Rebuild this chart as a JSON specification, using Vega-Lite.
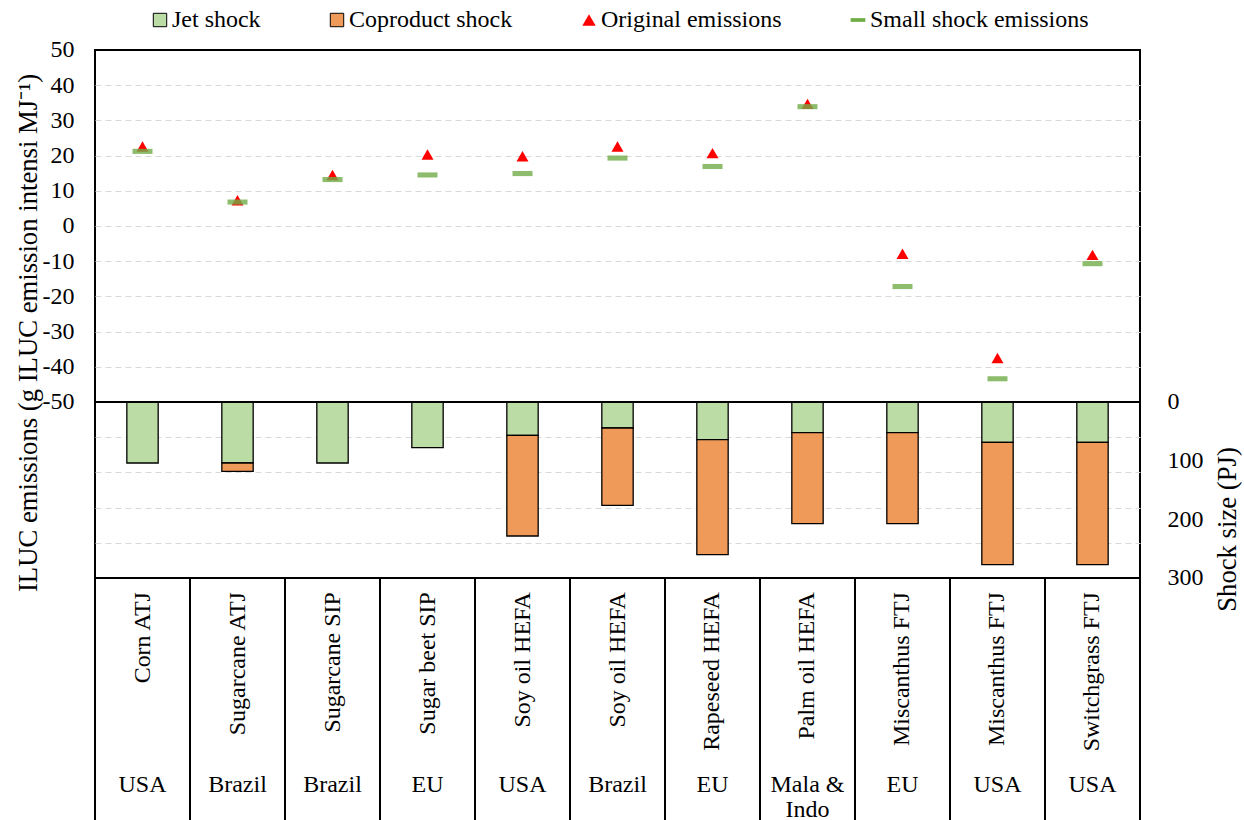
{
  "$schema": "https://vega.github.io/schema/vega-lite/v6.json",
  "autosize": {"type": "none"},
  "width": 1045,
  "height": 774.4,
  "padding": {"left": 95, "top": 50, "right": 104, "bottom": 0},
  "background": "white",
  "config": {
    "font": "Liberation Serif",
    "view": {"stroke": "#000000", "strokeWidth": 2},
    "axis": {
      "labelFont": "Liberation Serif",
      "titleFont": "Liberation Serif",
      "labelColor": "#000000",
      "titleColor": "#000000",
      "labelFontSize": 24,
      "titleFontSize": 26.7,
      "titleFontWeight": "normal",
      "domain": false,
      "ticks": false
    },
    "legend": {"labelFont": "Liberation Serif", "labelLimit": 400},
    "text": {"font": "Liberation Serif", "fontSize": 24, "color": "#000000"}
  },
  "data": {
    "values": [
      {"n": 1, "product": "Corn ATJ", "region": "USA", "orig": 22.6, "small": 21.2, "Jet shock": 104, "Coproduct shock": 0},
      {"n": 2, "product": "Sugarcane ATJ", "region": "Brazil", "orig": 7.3, "small": 6.8, "Jet shock": 104, "Coproduct shock": 14.2},
      {"n": 3, "product": "Sugarcane SIP", "region": "Brazil", "orig": 14.5, "small": 13.2, "Jet shock": 104, "Coproduct shock": 0},
      {"n": 4, "product": "Sugar beet SIP", "region": "EU", "orig": 20.3, "small": 14.5, "Jet shock": 77.8, "Coproduct shock": 0},
      {"n": 5, "product": "Soy oil HEFA", "region": "USA", "orig": 19.8, "small": 14.9, "Jet shock": 56.8, "Coproduct shock": 171.6},
      {"n": 6, "product": "Soy oil HEFA", "region": "Brazil", "orig": 22.6, "small": 19.3, "Jet shock": 44.3, "Coproduct shock": 131.8},
      {"n": 7, "product": "Rapeseed HEFA", "region": "EU", "orig": 20.7, "small": 16.9, "Jet shock": 64.2, "Coproduct shock": 196},
      {"n": 8, "product": "Palm oil HEFA", "region": "Mala &\nIndo", "orig": 34.7, "small": 33.9, "Jet shock": 52.3, "Coproduct shock": 155.1},
      {"n": 9, "product": "Miscanthus FTJ", "region": "EU", "orig": -7.9, "small": -17.2, "Jet shock": 52.3, "Coproduct shock": 155.1},
      {"n": 10, "product": "Miscanthus FTJ", "region": "USA", "orig": -37.5, "small": -43.4, "Jet shock": 68.8, "Coproduct shock": 208.5},
      {"n": 11, "product": "Switchgrass FTJ", "region": "USA", "orig": -8.2, "small": -10.7, "Jet shock": 68.8, "Coproduct shock": 208.5}
    ]
  },
  "layer": [
    {
      "transform": [
        {"fold": ["Jet shock", "Coproduct shock"], "as": ["series", "pj"]},
        {"filter": "datum.pj > 0"}
      ],
      "mark": {"type": "bar", "width": {"band": 0.33}, "strokeWidth": 1.3},
      "encoding": {
        "x": {"field": "n", "type": "ordinal", "axis": null, "scale": {"paddingInner": 0, "paddingOuter": 0}},
        "y": {
          "field": "pj", "type": "quantitative", "stack": "zero",
          "scale": {"domain": [-600, 720], "reverse": true, "nice": false, "zero": false},
          "axis": {
            "orient": "right", "values": [0, 100, 200, 300], "grid": false,
            "labelFont": "Liberation Serif", "titleFont": "Liberation Serif",
            "labelExpr": "toString(datum.value)", "labelAlign": "left", "labelBaseline": "middle", "labelPadding": 27,
            "title": "Shock size (PJ)", "titleAngle": 270, "titleAlign": "center", "titleBaseline": "alphabetic",
            "titleX": 96, "titleY": 479
          }
        },
        "order": {"field": "series", "sort": "descending"},
        "color": {
          "field": "series", "type": "nominal",
          "scale": {
            "domain": ["Jet shock", "Coproduct shock", "Original emissions", "Small shock emissions"],
            "range": ["#bcdca6", "#f09a5a", "#ff0000", "#70ad47"]
          },
          "legend": {
            "title": null, "orient": "none", "legendX": 53, "legendY": -42, "direction": "horizontal",
            "labelFont": "Liberation Serif", "labelFontSize": 24, "labelColor": "#000000", "labelLimit": 400,
            "symbolSize": 180, "labelOffset": 0, "columnPadding": 64, "padding": 0, "symbolStrokeWidth": 1
          }
        },
        "stroke": {
          "field": "series", "type": "nominal",
          "scale": {
            "domain": ["Jet shock", "Coproduct shock", "Original emissions", "Small shock emissions"],
            "range": ["#000000", "#000000", "transparent", "transparent"]
          },
          "legend": {
            "title": null, "orient": "none", "legendX": 53, "legendY": -42, "direction": "horizontal",
            "labelFont": "Liberation Serif", "labelFontSize": 24, "labelColor": "#000000", "labelLimit": 400,
            "symbolSize": 180, "labelOffset": 0, "columnPadding": 64, "padding": 0, "symbolStrokeWidth": 1
          }
        }
      }
    },
    {
      "layer": [
        {
          "mark": {"type": "point", "filled": true, "size": 144, "opacity": 1},
          "encoding": {
            "x": {"field": "n", "type": "ordinal", "axis": null},
            "y": {
              "field": "orig", "type": "quantitative",
              "title": "ILUC emissions (g ILUC emission intensi MJ⁻¹)",
              "scale": {"domain": [-170, 50], "nice": false, "zero": false},
              "axis": {
                "orient": "left",
                "values": [-90, -80, -70, -60, -50, -40, -30, -20, -10, 0, 10, 20, 30, 40, 50],
                "labelFont": "Liberation Serif", "titleFont": "Liberation Serif",
                "labelExpr": "datum.value < -50 ? '' : toString(datum.value)",
                "labelPadding": 21,
                "grid": true, "gridColor": "#d9d9d9", "gridDash": [6, 4], "gridWidth": 1,
                "gridOpacity": {"condition": {"test": "datum.value == 50 || datum.value == -50", "value": 0}, "value": 1},
                "title": "ILUC emissions (g ILUC emission intensi MJ⁻¹)",
                "titleAngle": 270, "titleAlign": "center", "titleBaseline": "alphabetic",
                "titleX": -59, "titleY": 282.5
              }
            },
            "color": {"datum": "Original emissions", "type": "nominal"},
            "shape": {
              "datum": "Original emissions", "type": "nominal",
              "scale": {
                "domain": ["Jet shock", "Coproduct shock", "Original emissions", "Small shock emissions"],
                "range": ["square", "square", "triangle-up", "M-1.1,-0.28H1.1V0.28H-1.1Z"]
              },
              "legend": {
                "title": null, "orient": "none", "legendX": 53, "legendY": -42, "direction": "horizontal",
                "labelFont": "Liberation Serif", "labelFontSize": 24, "labelColor": "#000000", "labelLimit": 400,
                "symbolSize": 180, "labelOffset": 0, "columnPadding": 64, "padding": 0, "symbolStrokeWidth": 1
              }
            }
          }
        },
        {
          "mark": {"type": "point", "filled": true, "size": 330, "opacity": 0.8},
          "encoding": {
            "x": {"field": "n", "type": "ordinal"},
            "y": {"field": "small", "type": "quantitative", "title": "ILUC emissions (g ILUC emission intensi MJ⁻¹)"},
            "color": {"datum": "Small shock emissions", "type": "nominal"},
            "shape": {"datum": "Small shock emissions", "type": "nominal"}
          }
        },
        {
          "mark": {"type": "rule", "color": "#000000", "strokeWidth": 2},
          "encoding": {
            "x": {"field": "n", "type": "ordinal", "bandPosition": 0},
            "y": {"datum": -100, "type": "quantitative", "title": "ILUC emissions (g ILUC emission intensi MJ⁻¹)"},
            "y2": {"datum": -175}
          }
        },
        {
          "data": {"values": [{"level": -50}, {"level": -100}]},
          "mark": {"type": "rule", "color": "#000000", "strokeWidth": 2},
          "encoding": {
            "y": {"field": "level", "type": "quantitative", "title": "ILUC emissions (g ILUC emission intensi MJ⁻¹)"}
          }
        },
        {
          "mark": {"type": "text", "angle": 270, "align": "right", "baseline": "middle", "fontSize": 24, "font": "Liberation Serif"},
          "encoding": {
            "x": {"field": "n", "type": "ordinal"},
            "y": {"datum": -104, "type": "quantitative", "title": "ILUC emissions (g ILUC emission intensi MJ⁻¹)"},
            "text": {"field": "product"}
          }
        },
        {
          "mark": {"type": "text", "align": "center", "baseline": "alphabetic", "fontSize": 24, "font": "Liberation Serif", "lineBreak": "\n", "lineHeight": 25},
          "encoding": {
            "x": {"field": "n", "type": "ordinal"},
            "y": {"datum": -160.7, "type": "quantitative", "title": "ILUC emissions (g ILUC emission intensi MJ⁻¹)"},
            "text": {"field": "region"}
          }
        }
      ]
    }
  ],
  "resolve": {"scale": {"y": "independent"}}
}
